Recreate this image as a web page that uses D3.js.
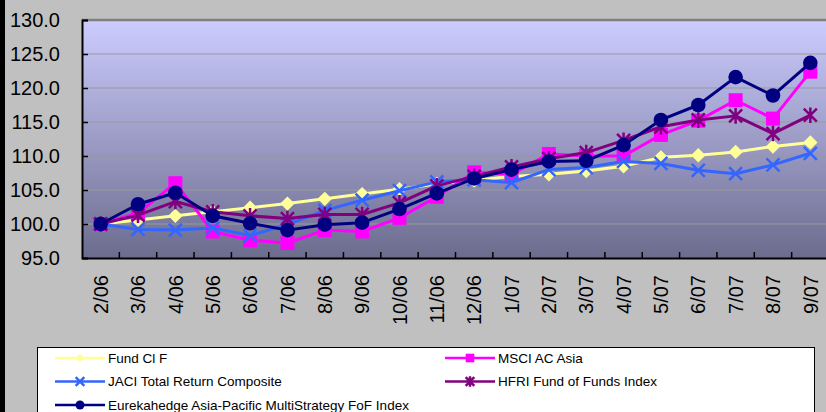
<!DOCTYPE html>
<html><head><meta charset="utf-8">
<script src="https://cdn.jsdelivr.net/npm/d3@7/dist/d3.min.js"></script>
<style>
html,body{margin:0;padding:0;background:#C0C0C0;overflow:hidden;}
svg{display:block;font-family:"Liberation Sans",Arial,sans-serif;}
</style></head>
<body><svg id="c" width="826" height="412"></svg>
<script>
const categories = ["2/06","3/06","4/06","5/06","6/06","7/06","8/06","9/06","10/06","11/06","12/06","1/07","2/07","3/07","4/07","5/07","6/07","7/07","8/07","9/07"];
const fundClF  = [100.0,100.6,101.2,101.8,102.4,103.0,103.7,104.4,105.1,105.9,106.4,107.0,107.3,107.8,108.5,109.8,110.1,110.6,111.4,112.0];
const msciAsia = [100.0,101.6,106.0,98.9,97.6,97.2,99.1,98.9,100.9,104.0,107.6,107.3,110.3,110.0,110.0,113.1,115.2,118.2,115.5,122.4];
const jaci     = [100.0,99.2,99.1,99.4,98.3,99.9,102.0,103.5,104.9,106.2,106.5,106.1,108.0,108.3,109.2,108.9,107.9,107.4,108.7,110.4];
const hfri     = [100.0,101.3,103.3,101.8,101.2,100.8,101.4,101.4,103.1,105.6,107.0,108.4,109.6,110.5,112.3,114.3,115.3,115.9,113.3,116.0];
const eureka   = [100.0,102.9,104.6,101.2,100.1,99.1,99.9,100.2,102.2,104.5,106.7,108.0,109.2,109.3,111.6,115.3,117.5,121.6,118.9,123.7];
const yTicks   = [95,100,105,110,115,120,125,130];

const series = [
  {name:"Fund Cl F", values:fundClF, color:"#FFFF99", marker:"diamond"},
  {name:"MSCI AC Asia", values:msciAsia, color:"#FF00FF", marker:"square"},
  {name:"JACI Total Return Composite", values:jaci, color:"#3366FF", marker:"x"},
  {name:"HFRI Fund of Funds Index", values:hfri, color:"#800080", marker:"star"},
  {name:"Eurekahedge Asia-Pacific MultiStrategy FoF Index", values:eureka, color:"#000080", marker:"circle"}
];

const svg = d3.select("#c");
svg.append("rect").attr("x",0).attr("y",0).attr("width",5).attr("height",412).attr("fill","#000");

const L = 82, T = 20, B = 258, step = 37.35;
const x = d3.scaleBand().domain(categories).range([L, L + step*categories.length]).padding(0);
const y = d3.scaleLinear().domain([95,130]).range([B, T]);

const defs = svg.append("defs");
const g = defs.append("linearGradient").attr("id","bg").attr("x1",0).attr("y1",0).attr("x2",0).attr("y2",1);
g.append("stop").attr("offset","0%").attr("stop-color","#CCCCFF");
g.append("stop").attr("offset","100%").attr("stop-color","#6C6C8E");
const W = x.range()[1]-L;
svg.append("rect").attr("x",L).attr("y",T).attr("width",W).attr("height",B-T).attr("fill","url(#bg)");

// gridlines
svg.append("g").selectAll("line").data(yTicks.filter(v=>v>95)).join("line")
  .attr("x1",L).attr("x2",L+W).attr("y1",d=>y(d)).attr("y2",d=>y(d))
  .attr("stroke",d=>d===130?"#808080":"#999999").attr("stroke-width",d=>d===130?2.5:1.2);

// y axis
const ya = svg.append("g").attr("transform",`translate(${L},0)`)
  .call(d3.axisLeft(y).tickValues(yTicks).tickFormat(d3.format(".1f")).tickSize(-6).tickPadding(22));
ya.select(".domain").attr("stroke","#000").attr("stroke-width",2);
ya.selectAll(".tick line").attr("stroke","#000").attr("stroke-width",1.5);
ya.selectAll("text").attr("font-size",20).attr("fill","#000").attr("font-family","Liberation Sans, Arial, sans-serif");

// x axis
const xa = svg.append("g").attr("transform",`translate(0,${B})`)
  .call(d3.axisBottom(x).tickSize(0).tickPadding(0));
xa.select(".domain").attr("stroke","#000").attr("stroke-width",2);
xa.selectAll("text").attr("font-size",20).attr("fill","#000").attr("font-family","Liberation Sans, Arial, sans-serif")
  .attr("transform","rotate(-90)").attr("text-anchor","end").attr("x",-17).attr("y",0).attr("dy","0.36em");
svg.append("g").selectAll("line").data(categories.slice(1)).join("line")
  .attr("x1",d=>x(d)).attr("x2",d=>x(d)).attr("y1",B).attr("y2",B-6)
  .attr("stroke","#000").attr("stroke-width",1.5);

function drawMarker(sel, type, color, s){
  if(type==="circle") sel.append("circle").attr("r",s).attr("fill",color);
  else if(type==="square") sel.append("rect").attr("x",-s).attr("y",-s).attr("width",2*s).attr("height",2*s).attr("fill",color);
  else if(type==="diamond") sel.append("path").attr("d",`M0,${-s}L${s},0L0,${s}L${-s},0Z`).attr("fill",color);
  else if(type==="x") sel.append("path").attr("d",`M${-s},${-s}L${s},${s}M${-s},${s}L${s},${-s}`).attr("stroke",color).attr("stroke-width",2.5).attr("fill","none");
  else if(type==="star") sel.append("path").attr("d",`M${-s},${-s}L${s},${s}M${-s},${s}L${s},${-s}M0,${-s*1.2}L0,${s*1.2}`).attr("stroke",color).attr("stroke-width",2.5).attr("fill","none");
}

const line = d3.line().x((d,i)=>x(categories[i])+x.bandwidth()/2).y(d=>y(d));
const sizes = {circle:7.3, square:7, diamond:7.2, x:6.5, star:6.5};
series.forEach(s=>{
  const gs = svg.append("g");
  gs.append("path").attr("d",line(s.values)).attr("fill","none").attr("stroke",s.color).attr("stroke-width",3).attr("stroke-linejoin","round");
  gs.selectAll("g").data(s.values).join("g")
    .attr("transform",(d,i)=>`translate(${x(categories[i])+x.bandwidth()/2},${y(d)})`)
    .each(function(){ drawMarker(d3.select(this), s.marker, s.color, sizes[s.marker]); });
});

// legend
svg.append("rect").attr("x",37.5).attr("y",347.5).attr("width",777).attr("height",80).attr("fill","#fff").attr("stroke","#000").attr("stroke-width",1);
const legPos = [[55,358],[445,358],[55,381.5],[445,381.5],[55,405]];
const legOrder = [0,1,2,3,4];
legOrder.forEach((si,k)=>{
  const s = series[si], p = legPos[k];
  const lg = svg.append("g").attr("transform",`translate(${p[0]},${p[1]})`);
  lg.append("line").attr("x1",0).attr("x2",50).attr("y1",0).attr("y2",0).attr("stroke",s.color).attr("stroke-width",2.5);
  const m = lg.append("g").attr("transform","translate(25,0)");
  drawMarker(m, s.marker, s.color, s.marker==="circle"?4.5:4.3);
  lg.append("text").attr("x",53).attr("y",0).attr("dy","0.35em").attr("font-size",13.5).attr("fill","#000").text(s.name);
});
</script></body></html>
